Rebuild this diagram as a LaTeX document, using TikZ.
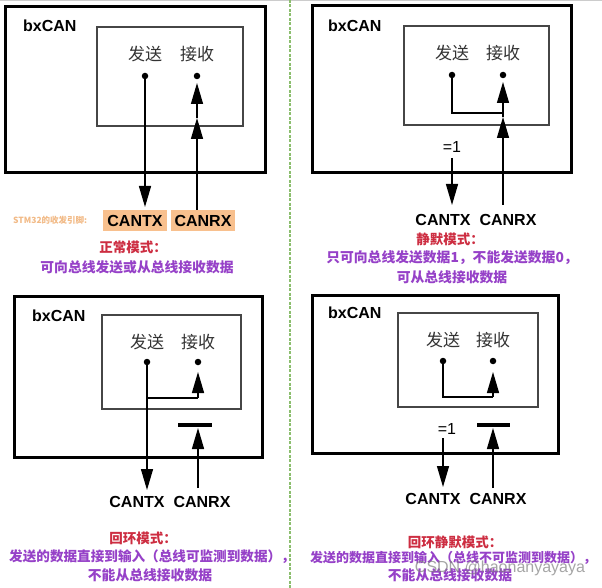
\documentclass[tikz,border=0pt]{standalone}
\usepackage{fontspec}
\usetikzlibrary{arrows.meta}
\newfontfamily\latf{Liberation Sans}
\newfontfamily\cjk{Noto Sans CJK SC}
\definecolor{titlered}{RGB}{205,45,65}
\definecolor{modepurple}{RGB}{150,65,200}
\definecolor{pinorange}{RGB}{248,192,142}
\definecolor{sepgreen}{RGB}{140,190,110}
\definecolor{innergray}{RGB}{70,70,70}
\tikzset{
  outerbox/.style={draw=black,line width=3pt},
  innerbox/.style={draw=innergray,line width=1.3pt},
  bxlabel/.style={font=\latf\bfseries\fontsize{16}{16}\selectfont,anchor=west,inner sep=0pt},
  funclabel/.style={font=\cjk\fontsize{17}{17}\selectfont,text=black!80,inner sep=0pt},
  pinlabel/.style={font=\latf\bfseries\fontsize{16}{16}\selectfont,inner sep=0pt},
  pinbox/.style={fill=pinorange,minimum width=64pt,minimum height=21pt,inner sep=0pt,font=\latf\bfseries\fontsize{16}{16}\selectfont},
  eqlabel/.style={font=\latf\fontsize{16}{16}\selectfont,inner sep=0pt},
  modetitle/.style={font=\cjk\bfseries\fontsize{13.5}{13.5}\selectfont,text=titlered,inner sep=0pt},
  modetext/.style={font=\cjk\bfseries\fontsize{13.8}{13.8}\selectfont,text=modepurple,inner sep=0pt},
  sig/.style={line width=1.4pt,black},
  sigarrow/.style={sig,-{Triangle[width=12pt,length=21pt]}},
  dotmark/.style={circle,fill=black,inner sep=0pt,minimum size=6.5pt},
  barline/.style={line width=4pt,black},
}
\begin{document}
\begin{tikzpicture}[x=1pt,y=-1pt]
\useasboundingbox (0,0) rectangle (602,588);
\fill[white] (0,0) rectangle (602,588);
\draw[black!20,line width=1.2pt] (0,0.6) -- (602,0.6);
\draw[sepgreen,line width=2pt,dash pattern=on 3pt off 1.5pt] (290,0) -- (290,588);

% ---------- Panel 1: normal mode ----------
\draw[outerbox] (5,7) rectangle (265,173);
\draw[innerbox] (97,27) rectangle (243,126);
\node[bxlabel] (bx1) at (23,26) {bxCAN};
\node[funclabel] (tx1) at (145,54) {发送};
\node[funclabel] (rx1) at (197,54) {接收};
\node[dotmark] (dt1) at (145,76) {};
\node[dotmark] (dr1) at (197,76) {};
\node[pinbox] (ptx1) at (135,220.5) {CANTX};
\node[pinbox] (prx1) at (203,220.5) {CANRX};
\coordinate (r1m) at (197,118);
\coordinate (r1t) at (197,83);
\coordinate (t1e) at (145,207);
\draw[sigarrow] (dt1.center) -- (t1e);
\draw[sigarrow] (prx1.north -| r1m) -- (r1m);
\draw[sigarrow] (r1m) -- (r1t);
\node[font=\cjk\bfseries\fontsize{8.5}{8.5}\selectfont,text=pinorange!90!brown,inner sep=0pt,anchor=west] (stm) at (13,220) {STM32的收发引脚:};
\node[modetitle] (m1) at (133,247) {正常模式：};
\node[modetext] (d1) at (137,267) {可向总线发送或从总线接收数据};

% ---------- Panel 2: silent mode ----------
\draw[outerbox] (312,6) rectangle (571,173);
\draw[innerbox] (404,26) rectangle (549,125);
\node[bxlabel] (bx2) at (328,26) {bxCAN};
\node[funclabel] (tx2) at (452,53) {发送};
\node[funclabel] (rx2) at (503,53) {接收};
\node[dotmark] (dt2) at (452,75) {};
\node[dotmark] (dr2) at (503,75) {};
\coordinate (j2a) at (452,113);
\coordinate (j2b) at (503,113);
\coordinate (r2t) at (503,82);
\coordinate (r2m) at (503,117);
\draw[sig] (dt2.center) -- (j2a) -- (j2b);
\draw[sigarrow] (j2b) -- (r2t);
\node[eqlabel] (eq2) at (452,147) {=1};
\node[pinlabel] (ptx2) at (443,220) {CANTX};
\node[pinlabel] (prx2) at (508,220) {CANRX};
\coordinate (t2s) at (452,158);
\coordinate (t2e) at (452,205);
\coordinate (r2s) at (503,205);
\draw[sigarrow] (t2s) -- (t2e);
\draw[sigarrow] (r2s) -- (r2m);
\draw[sig] (r2m) -- (j2b);
\node[modetitle] (m2) at (450,239) {静默模式：};
\node[modetext] (d2a) at (452,258) {只可向总线发送数据1，不能发送数据0，};
\node[modetext] (d2b) at (452,277) {可从总线接收数据};

% ---------- Panel 3: loop back mode ----------
\draw[outerbox] (14,296) rectangle (262,457);
\draw[innerbox] (102,315) rectangle (241,409);
\node[bxlabel] (bx3) at (32,316) {bxCAN};
\node[funclabel] (tx3) at (147,342) {发送};
\node[funclabel] (rx3) at (198,342) {接收};
\node[dotmark] (dt3) at (147,362) {};
\node[dotmark] (dr3) at (198,362) {};
\coordinate (j3a) at (147,398);
\coordinate (j3b) at (198,398);
\coordinate (r3t) at (198,372);
\coordinate (t3e) at (147,490);
\draw[sigarrow] (dt3.center) -- (t3e);
\draw[sig] (j3a) -- (j3b);
\draw[sigarrow] (j3b) -- (r3t);
\coordinate (b3a) at (178,425);
\coordinate (b3b) at (212,425);
\draw[barline] (b3a) -- (b3b);
\coordinate (r3s) at (198,488);
\coordinate (r3e) at (198,428);
\draw[sigarrow] (r3s) -- (r3e);
\node[pinlabel] (ptx3) at (137,502) {CANTX};
\node[pinlabel] (prx3) at (202,502) {CANRX};
\node[modetitle] (m3) at (143,538) {回环模式：};
\node[modetext,font=\cjk\bfseries\fontsize{13.6}{13.6}\selectfont] (d3a) at (152,557) {发送的数据直接到输入（总线可监测到数据），};
\node[modetext] (d3b) at (150,575) {不能从总线接收数据};

% ---------- Panel 4: loop back combined with silent mode ----------
\draw[outerbox] (312,295) rectangle (558,453);
\draw[innerbox] (398,313) rectangle (538,407);
\node[bxlabel] (bx4) at (328,313) {bxCAN};
\node[funclabel] (tx4) at (443,340) {发送};
\node[funclabel] (rx4) at (493,340) {接收};
\node[dotmark] (dt4) at (443,361) {};
\node[dotmark] (dr4) at (493,361) {};
\coordinate (j4a) at (443,397);
\coordinate (j4b) at (493,397);
\coordinate (r4t) at (493,372);
\draw[sig] (dt4.center) -- (j4a) -- (j4b);
\draw[sigarrow] (j4b) -- (r4t);
\coordinate (b4a) at (477,425);
\coordinate (b4b) at (510,425);
\draw[barline] (b4a) -- (b4b);
\coordinate (r4s) at (493,488);
\coordinate (r4e) at (493,428);
\draw[sigarrow] (r4s) -- (r4e);
\node[eqlabel] (eq4) at (447,429) {=1};
\coordinate (t4s) at (443,438);
\coordinate (t4e) at (443,487);
\draw[sigarrow] (t4s) -- (t4e);
\node[pinlabel] (ptx4) at (433,499) {CANTX};
\node[pinlabel] (prx4) at (498,499) {CANRX};
\node[modetitle] (m4) at (455,542) {回环静默模式：};
\node[modetext,font=\cjk\bfseries\fontsize{13.0}{13.0}\selectfont] (d4a) at (453,558) {发送的数据直接到输入（总线不可监测到数据），};
\node[modetext] (d4b) at (450,575) {不能从总线接收数据};

% watermark
\node[font=\latf\fontsize{16}{16}\selectfont,text=black!50,opacity=0.7,inner sep=0pt] (wm) at (500,568) {CSDN @haonanyayaya};
\end{tikzpicture}
\end{document}
